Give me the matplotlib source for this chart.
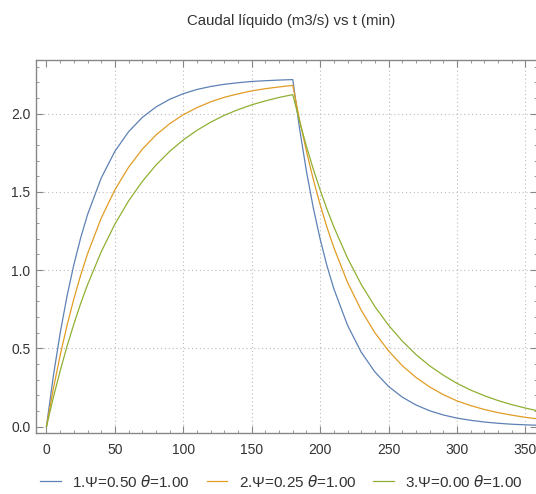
import matplotlib
matplotlib.use("Agg")
import matplotlib.pyplot as plt
from matplotlib.ticker import MultipleLocator

plt.rcParams["font.family"] = ["Liberation Sans Narrow", "Liberation Sans", "DejaVu Sans"]
plt.rcParams["mathtext.fontset"] = "dejavusans"

# time samples (min)
t = [0, 5, 10, 15, 20, 25, 30, 40, 50, 60, 70, 80, 90, 100, 110, 120, 130, 140, 150,
     160, 170, 180, 185, 190, 195, 200, 205, 210, 220, 230, 240, 250, 260, 270, 280,
     290, 300, 310, 320, 330, 340, 350, 360]

q1 = [0, 0.322, 0.597, 0.833, 1.034, 1.206, 1.354, 1.588, 1.759, 1.884, 1.975, 2.042,
      2.091, 2.127, 2.154, 2.173, 2.187, 2.197, 2.205, 2.210, 2.214, 2.217,
      1.901, 1.630, 1.397, 1.198, 1.027, 0.881, 0.648, 0.476, 0.350, 0.257, 0.189,
      0.139, 0.102, 0.075, 0.055, 0.041, 0.030, 0.022, 0.016, 0.012, 0.009]
q2 = [0, 0.241, 0.455, 0.646, 0.816, 0.968, 1.104, 1.332, 1.513, 1.657, 1.772, 1.863,
      1.935, 1.993, 2.038, 2.075, 2.104, 2.126, 2.145, 2.159, 2.170, 2.180,
      1.958, 1.758, 1.579, 1.418, 1.273, 1.144, 0.922, 0.744, 0.600, 0.484, 0.390,
      0.315, 0.254, 0.205, 0.165, 0.135, 0.110, 0.090, 0.074, 0.060, 0.049]
q3 = [0, 0.186, 0.356, 0.513, 0.655, 0.787, 0.906, 1.117, 1.294, 1.442, 1.566, 1.671,
      1.758, 1.832, 1.893, 1.945, 1.989, 2.025, 2.056, 2.081, 2.103, 2.121,
      1.949, 1.790, 1.645, 1.511, 1.389, 1.276, 1.077, 0.909, 0.767, 0.648, 0.547,
      0.461, 0.389, 0.329, 0.277, 0.234, 0.198, 0.167, 0.141, 0.119, 0.100]

labels = ["1.\u03a8=0.50 $\\theta$=1.00", "2.\u03a8=0.25 $\\theta$=1.00", "3.\u03a8=0.00 $\\theta$=1.00"]
colors = ["#5E81B5", "#E19C24", "#8FB032"]

fig = plt.figure(figsize=(5.36, 4.94), dpi=100)
ax = fig.add_axes([0.067, 0.1235, 0.935, 0.755])

for y, c, lab in zip([q1, q2, q3], colors, labels):
    ax.plot(t, y, color=c, lw=0.9, label=lab, zorder=3)

ax.set_xlim(-7.7, 358.5)
ax.set_ylim(-0.040, 2.342)

# dotted grid at major ticks (not at zero)
for gx in [50, 100, 150, 200, 250, 300, 350]:
    ax.axvline(gx, color="#bbbbbb", lw=0.8, ls=(0, (1, 2.5)), zorder=1)
for gy in [0.5, 1.0, 1.5, 2.0]:
    ax.axhline(gy, color="#bbbbbb", lw=0.8, ls=(0, (1, 2.5)), zorder=1)

ax.xaxis.set_major_locator(MultipleLocator(50))
ax.xaxis.set_minor_locator(MultipleLocator(10))
ax.yaxis.set_major_locator(MultipleLocator(0.5))
ax.yaxis.set_minor_locator(MultipleLocator(0.1))
ax.yaxis.set_major_formatter(matplotlib.ticker.FormatStrFormatter("%.1f"))
ax.tick_params(which="both", direction="in", top=True, right=True, color="#888888",
               labelsize=10, labelcolor="#333333")
ax.tick_params(which="major", length=5, width=0.8)
ax.tick_params(which="minor", length=2.5, width=0.6)
ax.tick_params(axis="x", pad=7)
ax.tick_params(axis="y", pad=4)
for s in ax.spines.values():
    s.set_color("#888888")
    s.set_linewidth(1.0)
ax.spines["right"].set_visible(False)

fig.text(0.543, 0.958, "Caudal l\u00edquido (m3/s) vs t (min)", ha="center", va="center",
         fontsize=10.8, color="#333333")

fig.legend(loc="center", bbox_to_anchor=(0.525, 0.025), ncol=3, frameon=False,
           fontsize=11, handlelength=1.35, columnspacing=1.1, handletextpad=0.75,
           labelcolor="#333333")

fig.savefig("out.png", dpi=100)
